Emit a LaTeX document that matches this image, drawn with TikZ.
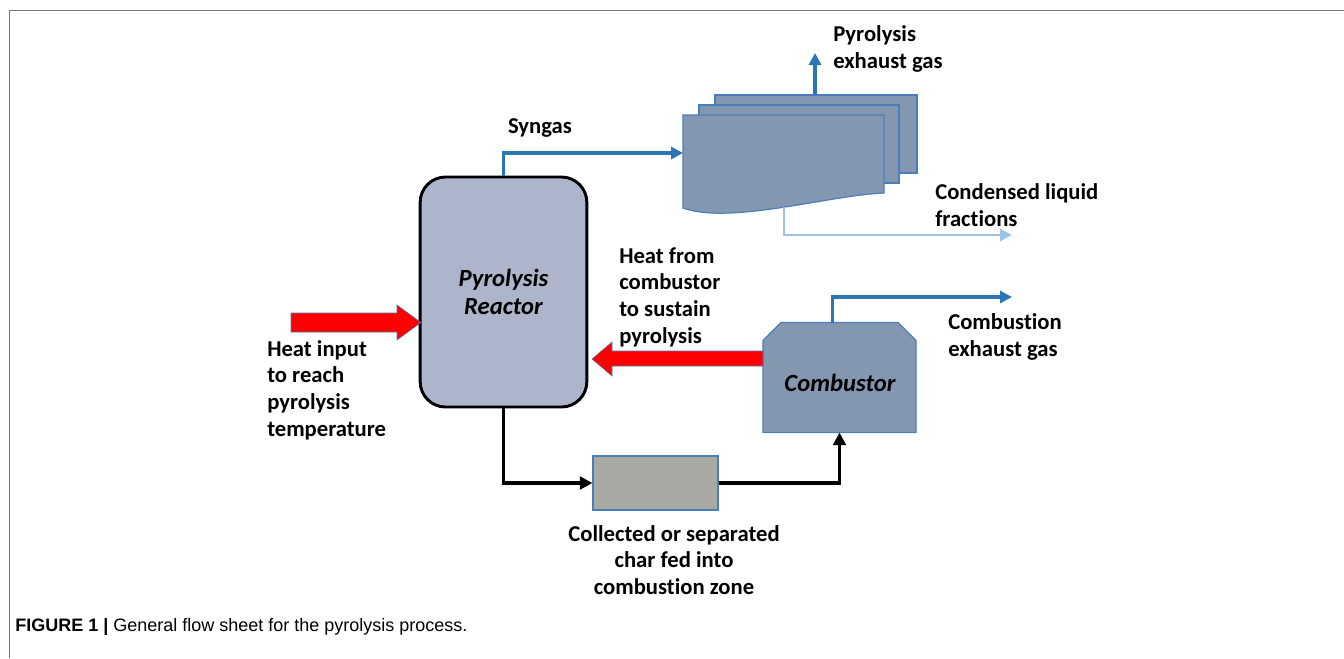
\documentclass[tikz,border=0pt]{standalone}
\usepackage{fontspec}
\setmainfont[Ligatures=NoCommon]{Carlito}
\newfontfamily\capfont{Liberation Sans}
\usetikzlibrary{arrows.meta,calc}
\definecolor{reactfill}{HTML}{ADB5CA}
\definecolor{unitfill}{HTML}{8497B0}
\definecolor{unitedge}{HTML}{4A7EBB}
\definecolor{flowblue}{HTML}{2E75B6}
\definecolor{flowlight}{HTML}{9DC3E6}
\definecolor{charfill}{HTML}{A9A9A4}
\definecolor{heatred}{HTML}{FF0000}
\definecolor{framegray}{HTML}{777777}
\tikzset{
  lbl/.style={font=\fontsize{17}{20}\selectfont\bfseries, inner sep=0pt, align=left},
  lblc/.style={font=\fontsize{17}{20}\selectfont\bfseries, inner sep=0pt, align=center},
  unittxt/.style={font=\fontsize{18.5}{21}\selectfont\bfseries\itshape, inner sep=0pt, align=center},
  blueflow/.style={draw=flowblue, line width=2.3pt, -{Triangle[length=9pt,width=9pt]}},
  lightflow/.style={draw=flowlight, line width=2.1pt, -{Triangle[length=9pt,width=9pt]}},
  blackflow/.style={draw=black, line width=2.4pt, -{Triangle[length=9.5pt,width=9.5pt]}},
  page/.style={fill=unitfill, draw=unitedge, line width=0.9pt},
  heatarrow/.style={fill=heatred, draw=unitedge, line width=0.4pt},
}
\begin{document}
\begin{tikzpicture}[x=0.75pt, y=-0.75pt]
\useasboundingbox (0,0) rectangle (1344,658);
% frame
\draw[framegray, line width=1.4pt] (9.5,658) -- (9.5,10.5) -- (1344,10.5);

% reactor
\node[draw=black, fill=reactfill, line width=2.2pt, rounded corners=19pt,
      minimum width=125pt, minimum height=172.5pt, inner sep=0pt, unittxt]
      (reactor) at (503.5,292) {Pyrolysis\\Reactor};

% condenser pages
\path[page] (715,95) rectangle (917,173);
\path[page] (699,105) rectangle (899,183);
\path[page] (683,115) -- (884,115) -- (884,193) .. controls (830,195) and (730,225) .. (683,208) -- cycle;
\coordinate (condin) at (683,153);
\coordinate (backtop) at (815,95);
\coordinate (exhtip) at (815,53);
\coordinate (liqstart) at (784,207);
\coordinate (liqtip) at (1012,235);

% combustor (rectangle node, drawn with chamfered top corners)
\node[minimum width=114.75pt, minimum height=82.5pt, inner sep=0pt, outer sep=0pt]
      (comb) at (839.5,377.5) {};
\path[page] (comb.south west) -- ($(comb.north west)+(0,18)$) -- ($(comb.north west)+(18,0)$)
  -- ($(comb.north east)+(-18,0)$) -- ($(comb.north east)+(0,18)$) -- (comb.south east) -- cycle;
\node[unittxt] (combtxt) at (840,383) {Combustor};
\coordinate (combout) at (1012,297);

% char box
\node[fill=charfill, draw=unitedge, line width=0.8pt, minimum width=93.75pt,
      minimum height=40.5pt, inner sep=0pt] (char) at (655.5,483) {};

% flows
\draw[blueflow] (reactor.north) |- (condin);
\draw[blueflow] (backtop) -- (exhtip);
\draw[lightflow] (liqstart) |- (liqtip);
\draw[blueflow] ($(comb.north)+(-7,0)$) |- (combout);
\draw[blackflow] (reactor.south) |- (char.west);
\draw[blackflow] (char.east) -| (comb.south);

% heat arrows
\path[heatarrow] (291,313) -- (397,313) -- (397,305) -- (421,322.5) -- (397,340) -- (397,332) -- (291,332) -- cycle;
\path[heatarrow] (763,351) -- (612,351) -- (612,342) -- (592,359) -- (612,376) -- (612,366) -- (763,366) -- cycle;

% labels
\node[lblc] (syngas) at (540,128) {Syngas};
\node[lbl, anchor=west] (exhlbl) at (833,49) {Pyrolysis\\exhaust gas};
\node[lbl, anchor=west] (liqlbl) at (935,205) {Condensed liquid\\fractions};
\node[lbl, anchor=west] (comblbl) at (948,337) {Combustion\\exhaust gas};
\node[lbl, anchor=west] (heatlbl) at (619,297) {Heat from\\combustor\\to sustain\\pyrolysis};
\node[lbl, anchor=west] (inlbl) at (267,390) {Heat input\\to reach\\pyrolysis\\temperature};
\node[lblc] (charlbl) at (674,560) {Collected or separated\\char fed into\\combustion zone};

% caption
\node[anchor=west, inner sep=0pt, font=\capfont\fontsize{13.5}{16}\selectfont] (cap) at (15,627)
  {\textbf{FIGURE 1} \textbf{|} General flow sheet for the pyrolysis process.};
\end{tikzpicture}
\end{document}
